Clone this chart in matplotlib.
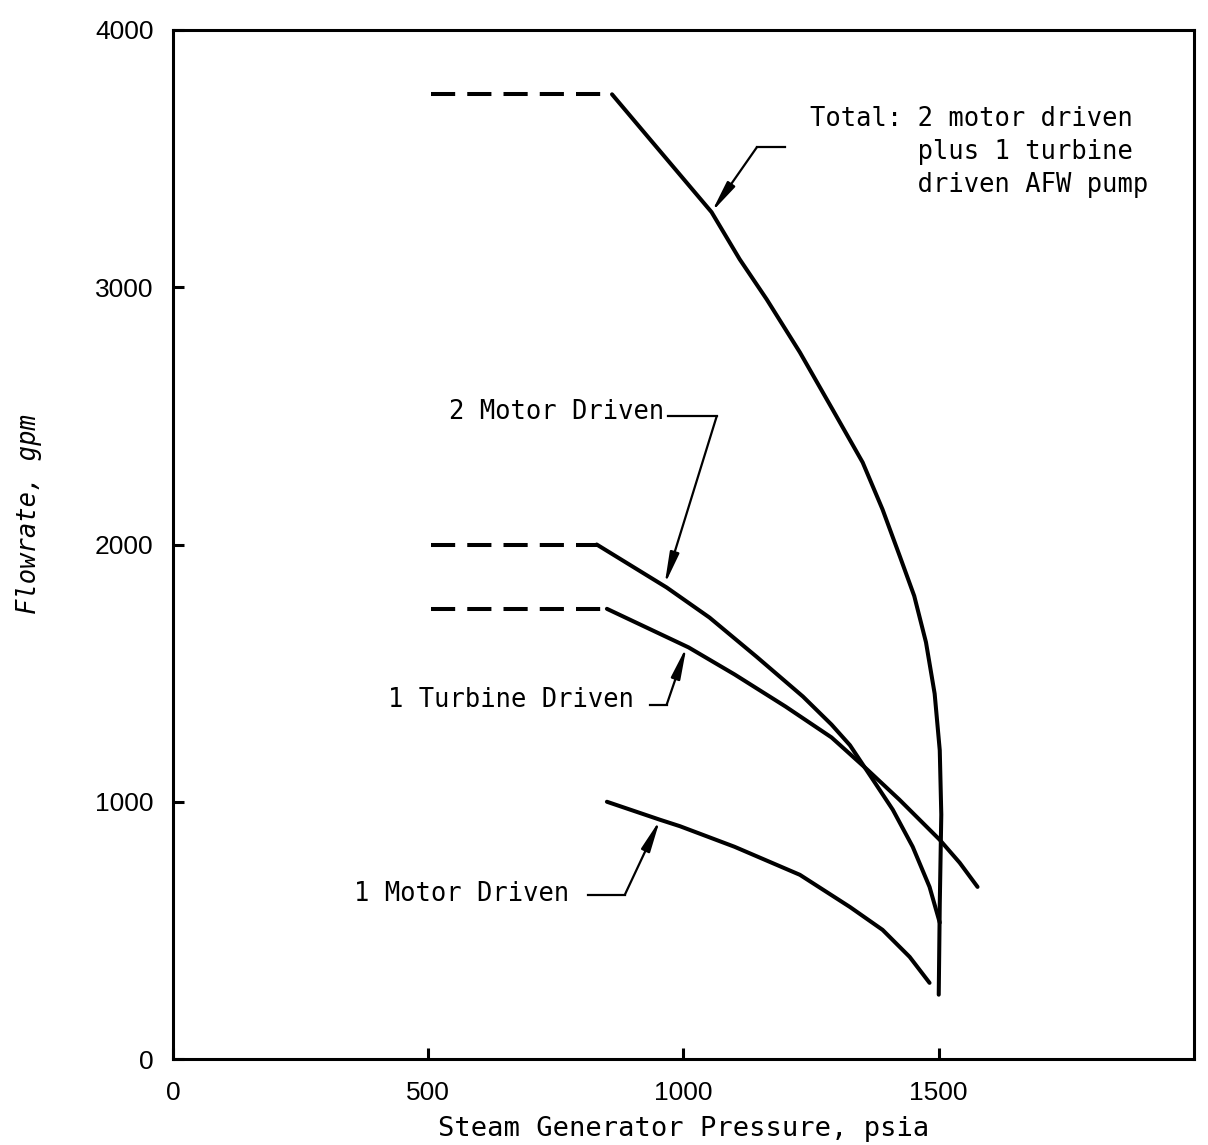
import matplotlib.pyplot as plt

# AFW pump flow vs steam generator pressure
dash_start = 505

total_p = [860, 934, 1055, 1110, 1163, 1228, 1292, 1351, 1390, 1424, 1452, 1475, 1492,
           1502, 1505, 1502, 1500]
total_f = [3750, 3576, 3292, 3109, 2953, 2747, 2525, 2319, 2136, 1953, 1800, 1620, 1420,
           1200, 950, 600, 250]

two_motor_p = [830, 967, 1051, 1143, 1234, 1290, 1326, 1371, 1410, 1449, 1482, 1502]
two_motor_f = [2000, 1833, 1716, 1564, 1409, 1300, 1220, 1086, 969, 825, 669, 530]

turbine_p = [850, 1010, 1100, 1200, 1290, 1360, 1423, 1502, 1541, 1576]
turbine_f = [1750, 1600, 1495, 1370, 1250, 1125, 1008, 852, 763, 669]

one_motor_p = [850, 954, 993, 1100, 1228, 1326, 1390, 1443, 1482]
one_motor_f = [1000, 930, 905, 825, 716, 591, 502, 397, 296]

x_ticks = [0, 500, 1000, 1500]
y_ticks = [0, 1000, 2000, 3000, 4000]

# leader lines: (text end x, elbow x, y of horizontal run, tip x, tip y)
leaders = [
    (1198, 1144, 3545, 1055, 3292),
    (969, 1065, 2498, 963, 1844),
    (934, 967, 1377, 1006, 1603),
    (813, 885, 638, 954, 930),
]

mono = 'DejaVu Sans Mono'
lw = 2.9

fig = plt.figure(figsize=(12.08, 11.45), dpi=100)
ax = fig.add_axes([0.1432, 0.0751, 0.8452, 0.8987])

for p, f in [(total_p, total_f), (two_motor_p, two_motor_f), (turbine_p, turbine_f)]:
    ax.plot([dash_start, p[0]], [f[0], f[0]], color='black', lw=lw, dashes=(6, 3))
for p, f in [(total_p, total_f), (two_motor_p, two_motor_f),
             (turbine_p, turbine_f), (one_motor_p, one_motor_f)]:
    ax.plot(p, f, color='black', lw=lw, solid_capstyle='round', solid_joinstyle='round')

for x0, x1, y0, xt, yt in leaders:
    ax.plot([x0, x1], [y0, y0], color='black', lw=1.6)
    ax.annotate('', xy=(xt, yt), xytext=(x1, y0),
                arrowprops=dict(arrowstyle='-|>,head_length=1.9,head_width=0.28',
                                color='black', lw=1.6, shrinkA=0, shrinkB=0,
                                mutation_scale=10))

ax.text(1248, 3525, 'Total: 2 motor driven\n       plus 1 turbine\n       driven AFW pump',
        family=mono, fontsize=18.4, va='center', ha='left', linespacing=1.36)
ax.text(962, 2514, '2 Motor Driven', family=mono, fontsize=18.4, va='center', ha='right')
ax.text(904, 1396, '1 Turbine Driven', family=mono, fontsize=18.4, va='center', ha='right')
ax.text(776, 642, '1 Motor Driven', family=mono, fontsize=18.4, va='center', ha='right')

ax.set_xlim(0, 2000)
ax.set_ylim(0, 4000)
ax.set_xticks(x_ticks)
ax.set_yticks(y_ticks)
ax.set_xticklabels([str(v) for v in x_ticks], family='Liberation Sans', fontsize=19)
ax.set_yticklabels([str(v) for v in y_ticks], family='Liberation Sans', fontsize=19)
ax.tick_params(direction='in', length=8, width=2.2, pad=14)
ax.tick_params(axis='x', pad=16)
for s in ax.spines.values():
    s.set_linewidth(2.2)

ax.set_xlabel('Steam Generator Pressure, psia', family=mono, fontsize=19.5, labelpad=8)
ax.set_ylabel('Flowrate, gpm', family=mono, style='italic', fontsize=18.4)
ax.yaxis.set_label_coords(-0.128, 0.53)

plt.savefig('out.png', dpi=100)
